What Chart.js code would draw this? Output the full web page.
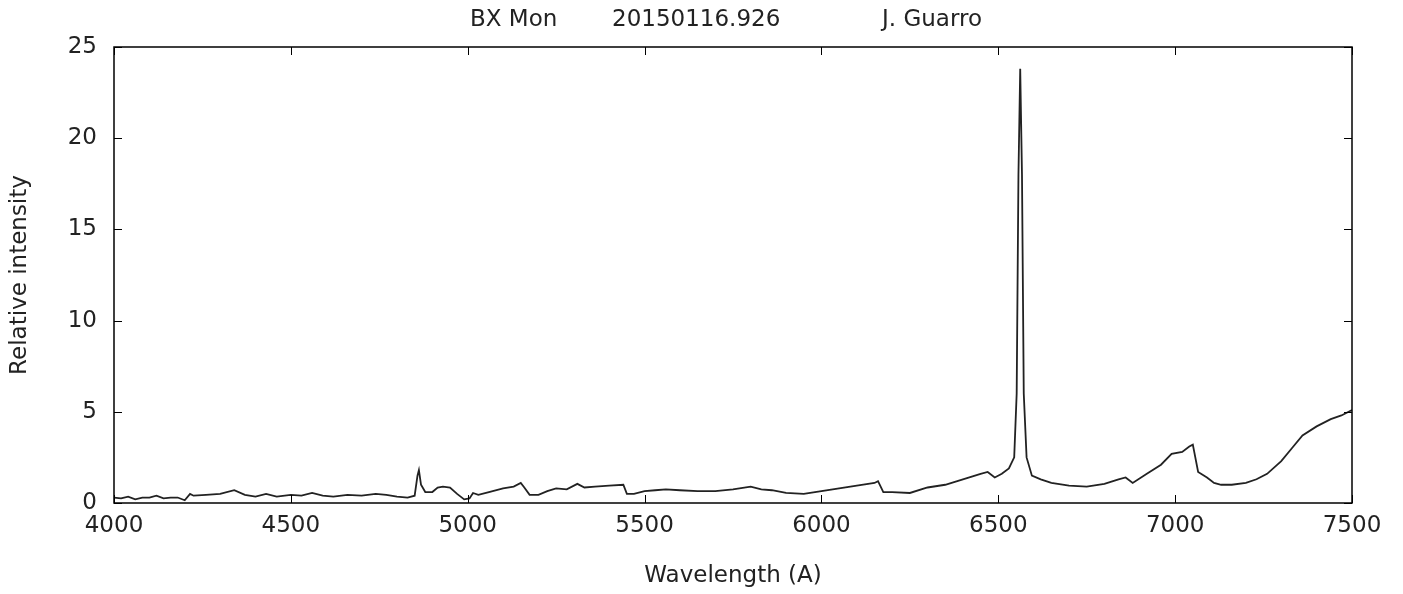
<!DOCTYPE html>
<html><head><meta charset="utf-8">
<script src="https://cdn.jsdelivr.net/npm/chart.js@4"></script>
<style>html,body{margin:0;padding:0;background:#fff}#w{width:1403px;height:594px}</style>
</head><body><div id="w"><canvas id="c"></canvas></div>
<script>
const titleParts = ["BX Mon","20150116.926","J. Guarro"];
const xTicks = [4000,4500,5000,5500,6000,6500,7000,7500];
const yTicks = [0,5,10,15,20,25];
const wavelengths = [4000,4020,4040,4060,4080,4100,4120,4140,4160,4180,4200,4215,4225,4260,4300,4340,4370,4400,4430,4460,4500,4530,4560,4590,4620,4660,4700,4740,4770,4800,4830,4850,4858,4862,4868,4880,4900,4915,4930,4950,4970,4990,5005,5015,5030,5060,5100,5130,5150,5160,5175,5200,5225,5250,5280,5310,5330,5360,5400,5440,5450,5470,5500,5530,5560,5600,5650,5700,5750,5800,5830,5860,5900,5950,6000,6050,6100,6150,6160,6175,6200,6250,6300,6350,6400,6450,6470,6490,6510,6530,6545,6552,6557,6562,6567,6572,6580,6595,6620,6650,6700,6750,6800,6840,6860,6880,6920,6960,6990,7020,7040,7050,7065,7090,7110,7130,7160,7200,7230,7260,7300,7330,7360,7400,7440,7470,7500];
const intensities = [0.3,0.25,0.35,0.2,0.3,0.3,0.4,0.25,0.3,0.3,0.15,0.5,0.4,0.45,0.5,0.7,0.45,0.35,0.5,0.35,0.45,0.4,0.55,0.4,0.35,0.45,0.4,0.5,0.45,0.35,0.3,0.4,1.5,1.8,1.0,0.6,0.6,0.85,0.9,0.85,0.5,0.2,0.25,0.55,0.45,0.6,0.8,0.9,1.1,0.85,0.45,0.45,0.65,0.8,0.75,1.05,0.85,0.9,0.95,1.0,0.5,0.5,0.65,0.7,0.75,0.7,0.65,0.65,0.75,0.9,0.75,0.7,0.55,0.5,0.65,0.8,0.95,1.1,1.2,0.6,0.6,0.55,0.85,1.0,1.3,1.6,1.7,1.4,1.6,1.9,2.5,6,18,23.8,18,6,2.5,1.5,1.3,1.1,0.95,0.9,1.05,1.3,1.4,1.1,1.6,2.1,2.7,2.8,3.1,3.2,1.7,1.4,1.1,1.0,1.0,1.1,1.3,1.6,2.3,3.0,3.7,4.2,4.6,4.8,5.1];
const data = wavelengths.map((x,i)=>({x,y:intensities[i]}));
const font = "DejaVu Sans";
const FS = 23;
const titleX = [470,612,882];
const innerTicks = {id:'innerTicks',afterDraw(ch){
  const c=ch.ctx,a=ch.chartArea,xs=ch.scales.x,ys=ch.scales.y;
  c.save();c.strokeStyle='#000';c.lineWidth=1;c.beginPath();
  xTicks.forEach(v=>{const p=Math.round(xs.getPixelForValue(v))+0.5;c.moveTo(p,a.bottom);c.lineTo(p,a.bottom-8);c.moveTo(p,a.top);c.lineTo(p,a.top+8);});
  yTicks.forEach(v=>{const p=Math.round(ys.getPixelForValue(v))+0.5;c.moveTo(a.left,p);c.lineTo(a.left+8,p);c.moveTo(a.right,p);c.lineTo(a.right-8,p);});
  c.stroke();c.lineWidth=1.5;c.strokeRect(a.left,a.top,a.right-a.left,a.bottom-a.top);
  c.fillStyle='#222';c.font=FS+'px "'+font+'"';c.textAlign='left';c.textBaseline='middle';
  titleParts.forEach((t,i)=>c.fillText(t,titleX[i],20));c.restore();}};
new Chart(document.getElementById('c'),{type:'line',
 data:{datasets:[{data,borderColor:'#222',borderWidth:1.8,pointRadius:0,tension:0}]},
 options:{responsive:true,maintainAspectRatio:false,animation:false,
  layout:{padding:{top:47,right:51,left:0,bottom:0}},
  plugins:{legend:{display:false},tooltip:{enabled:false}},
  scales:{
   x:{type:'linear',min:4000,max:7500,afterBuildTicks(s){s.ticks=xTicks.map(v=>({value:v}));},
      afterFit(s){s.height=91;},grid:{display:false,drawTicks:false},border:{display:false},
      ticks:{color:'#222',font:{family:font,size:FS},padding:9,maxRotation:0,callback:v=>String(v)},
      title:{display:true,text:'Wavelength (A)',color:'#222',font:{family:font,size:FS},padding:{top:4,bottom:4}}},
   y:{min:0,max:25,afterBuildTicks(s){s.ticks=yTicks.map(v=>({value:v}));},
      afterFit(s){s.width=114;},grid:{display:false,drawTicks:false},border:{display:false},
      ticks:{color:'#222',font:{family:font,size:FS},padding:17},
      title:{display:true,text:'Relative intensity',color:'#222',font:{family:font,size:FS},padding:{top:6,bottom:4}}}}},
 plugins:[innerTicks]});
</script></body></html>
